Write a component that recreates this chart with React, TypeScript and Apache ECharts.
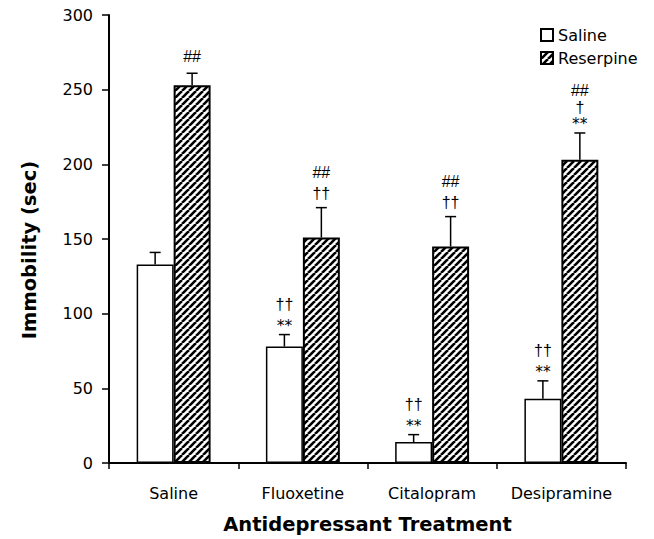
import React, { useEffect, useRef } from "react";
import * as echarts from "echarts";

const categories = ["Saline", "Fluoxetine", "Citalopram", "Desipramine"];
const salineMean = [133, 78, 14, 43];
const salineSE = [8, 8, 5, 12];
const reserpineMean = [253, 151, 145, 203];
const reserpineSE = [8, 20, 20, 18];
// significance marks, listed from the line nearest the error bar upward
const salineMarks = [[], ["**", "††"], ["**", "††"], ["**", "††"]];
const reserpineMarks = [["##"], ["††", "##"], ["††", "##"], ["**", "†", "##"]];
const seriesNames = ["Saline", "Reserpine"];

const FONT = "DejaVu Sans";
const BAR_FRAC = 0.286;

function makeHatch(): HTMLCanvasElement {
  const s = 7;
  const c = document.createElement("canvas");
  c.width = s;
  c.height = s;
  const ctx = c.getContext("2d")!;
  ctx.fillStyle = "#fff";
  ctx.fillRect(0, 0, s, s);
  ctx.strokeStyle = "#000";
  ctx.lineWidth = 2.6;
  for (let k = -1; k <= 1; k++) {
    ctx.beginPath();
    ctx.moveTo(k * s, s);
    ctx.lineTo(k * s + s, 0);
    ctx.stroke();
  }
  return c;
}

function markChildren(lines: string[], x: number, capY: number) {
  const out: any[] = [];
  if (!lines.length) return out;
  const first = lines[0];
  let off = first.startsWith("*") ? 9 : first.startsWith("†") ? 14 : 17;
  const step = lines.length > 2 ? 16.5 : 21.5;
  lines.forEach((ln, i) => {
    if (i > 0) off += step;
    const isStar = ln.startsWith("*");
    const size = isStar ? 15.5 : 16;
    out.push({
      type: "text",
      x: x,
      y: capY - off,
      style: {
        text: ln,
        textAlign: "center",
        textVerticalAlign: "middle",
        font: isStar ? `${size}px "${FONT}"` : `${size}px "Liberation Sans"`,
        lineHeight: size,
        fill: "#000",
      },
    });
  });
  return out;
}

function errSeries(means: number[], ses: number[], marks: string[][], side: number) {
  return {
    type: "custom",
    z: 5,
    silent: true,
    data: means.map((m, i) => [i, m, ses[i]]),
    encode: { x: 0, y: 1 },
    renderItem: (params: any, api: any) => {
      const idx = api.value(0);
      const mean = api.value(1);
      const se = api.value(2);
      const band = api.size([1, 0])[0];
      const dx = (side * band * BAR_FRAC) / 2;
      const base = api.coord([idx, mean]);
      const top = api.coord([idx, mean + se]);
      const x = base[0] + dx;
      return {
        type: "group",
        children: [
          {
            type: "line",
            shape: { x1: x, y1: base[1], x2: x, y2: top[1] },
            style: { stroke: "#000", lineWidth: 1.5 },
          },
          {
            type: "line",
            shape: { x1: x - 5.5, y1: top[1], x2: x + 5.5, y2: top[1] },
            style: { stroke: "#000", lineWidth: 1.5 },
          },
          ...markChildren(marks[params.dataIndex], x, top[1]),
        ],
      };
    },
  };
}

export default function App() {
  const ref = useRef<HTMLDivElement>(null);
  useEffect(() => {
    if (!ref.current) return;
    const chart = echarts.init(ref.current, undefined, { renderer: "svg" });
    const hatch = { image: makeHatch(), repeat: "repeat" };
    chart.setOption({
      animation: false,
      backgroundColor: "#fff",
      textStyle: { fontFamily: FONT, color: "#000" },
      grid: { left: 109, right: 28, top: 15, bottom: 72 },
      legend: {
        data: seriesNames,
        orient: "vertical",
        left: 535,
        top: 22,
        itemWidth: 12,
        itemHeight: 12,
        itemGap: 7,
        icon: "rect",
        textStyle: { fontSize: 16, color: "#000", fontFamily: FONT },
      },
      xAxis: {
        type: "category",
        data: categories,
        name: "Antidepressant Treatment",
        nameLocation: "middle",
        nameGap: 51,
        nameTextStyle: { fontSize: 19.5, fontWeight: "bold", color: "#000", fontFamily: FONT },
        axisLine: { lineStyle: { color: "#000", width: 2 } },
        axisTick: { show: true, interval: 0, length: 6, lineStyle: { color: "#000", width: 1.5 } },
        axisLabel: { interval: 0, fontSize: 16, color: "#000", margin: 22, fontFamily: FONT },
      },
      yAxis: {
        type: "value",
        min: 0,
        max: 300,
        interval: 50,
        name: "Immobility (sec)",
        nameLocation: "middle",
        nameGap: 70,
        nameTextStyle: {
          fontSize: 19.5,
          fontWeight: "bold",
          color: "#000",
          fontFamily: FONT,
          padding: [0, 22, 0, 0],
        },
        axisLine: { show: true, lineStyle: { color: "#000", width: 2 } },
        axisTick: { show: true, length: 7, lineStyle: { color: "#000", width: 1.5 } },
        axisLabel: { fontSize: 16, color: "#000", margin: 16, fontFamily: FONT },
        splitLine: { show: false },
      },
      series: [
        {
          name: seriesNames[0],
          type: "bar",
          data: salineMean,
          barWidth: BAR_FRAC * 100 + "%",
          barGap: "0%",
          itemStyle: { color: "#fff", borderColor: "#000", borderWidth: 1.5 },
        },
        {
          name: seriesNames[1],
          type: "bar",
          data: reserpineMean,
          barWidth: BAR_FRAC * 100 + "%",
          barGap: "0%",
          itemStyle: { color: hatch, borderColor: "#000", borderWidth: 2 },
        },
        errSeries(salineMean, salineSE, salineMarks, -1),
        errSeries(reserpineMean, reserpineSE, reserpineMarks, 1),
      ],
    });
    return () => chart.dispose();
  }, []);
  return (
    <div
      ref={ref}
      style={{ position: "fixed", left: 0, top: 0, width: 654, height: 539 }}
    />
  );
}
